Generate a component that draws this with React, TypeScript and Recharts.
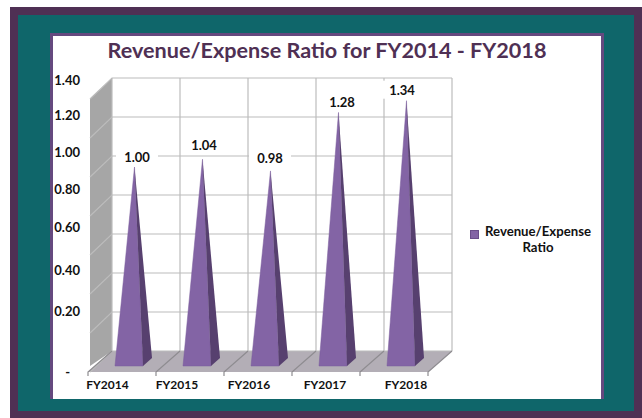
import {
  ComposedChart, Bar, XAxis, YAxis, CartesianGrid, LabelList, Legend,
} from "recharts";

const categories = ["FY2014", "FY2015", "FY2016", "FY2017", "FY2018"];
const ratios = [1.0, 1.04, 0.98, 1.28, 1.34];
const valueTicks = [0, 0.2, 0.4, 0.6, 0.8, 1.0, 1.2, 1.4];
const seriesName = "Revenue/Expense Ratio";
const data = categories.map((year, i) => ({ year, ratio: ratios[i] }));

const FONT = "Lato, 'Open Sans', sans-serif";
const GRID = "#bcbcbc";
// 3D depth of the box, back wall vs front plane
const DEPTH_X = 24;
const DEPTH_Y = 21;

// the reference's labels don't sit on their gridlines, so they get nudged
const yLabelNudge = [0, -22, -24, -28, -27, -25, -23, -19];
const xLabelNudge = [-14.5, -13, -9, -1, 12];
const dataLabelDx = [3, 2, 0, 4, -4];
const dataLabelDy = [-10, -14, -13, -10, -11];

// side wall + floor, drawn once from a grid underneath the real one
const Box = ({ index, x1, x2, y1, y, height }: any) => {
  if (index !== 0) return <g />;
  const b = y + height;
  return (
    <g>
      <polygon points={`${x1 + 2},${y} ${x1 + DEPTH_X},${y - DEPTH_Y} ${x1 + DEPTH_X},${b - DEPTH_Y} ${x1 + 2},${b - 6}`} fill="#a6a6a6" />
      <polygon points={`${x1},${b} ${x2},${b} ${x2 + DEPTH_X},${b - DEPTH_Y} ${x1 + DEPTH_X},${b - DEPTH_Y}`} fill="#b3aeb6" />
    </g>
  );
};

const HLine = ({ x1, y1, x2 }: any) => (
  <path
    d={`M${x1 + 2},${y1} L${x1 + DEPTH_X},${y1 - DEPTH_Y} L${x2 + DEPTH_X},${y1 - DEPTH_Y}`}
    fill="none" stroke={GRID} strokeWidth={1.2}
  />
);

const VLine = ({ x1, y1, y2 }: any) => (
  <g fill="none" strokeWidth={1.2}>
    <path d={`M${x1 + DEPTH_X},${y2 - DEPTH_Y} L${x1 + DEPTH_X},${y1 - DEPTH_Y}`} stroke={GRID} />
    <path d={`M${x1},${y2 + 4} L${x1},${y2} L${x1 + DEPTH_X},${y2 - DEPTH_Y}`} stroke="#8e8c90" />
  </g>
);

const Pyramid = ({ x, y, width, height }: any) => {
  const cx = x + width / 2;
  const base = y + height;
  const apex = `${cx + 12.5},${y - 10}`;
  return (
    <g>
      <polygon points={`${cx - 7},${base - 6} ${cx + 21},${base - 6} ${apex}`} fill="#8364a5" stroke="#7a5c9c" strokeWidth={0.5} />
      <polygon points={`${cx + 21},${base - 6} ${cx + 30},${base - 14} ${apex}`} fill="#57406f" />
    </g>
  );
};

const PointLabel = ({ x, y, width, value, index }: any) => {
  const cx = x + width / 2 + 12 + dataLabelDx[index];
  const cy = y - 10 + dataLabelDy[index];
  return (
    <g>
      <rect x={cx - 21} y={cy - 9} width={42} height={18} fill="#fff" />
      <text x={cx} y={cy} textAnchor="middle" dominantBaseline="central"
        fontFamily={FONT} fontWeight={700} fontSize={13} fill="#111">
        {Number(value).toFixed(2)}
      </text>
    </g>
  );
};

const YTick = ({ x, y, payload, index }: any) => (
  <text x={payload.value === 0 ? x - 10 : x} y={y + yLabelNudge[index]} textAnchor="end" dominantBaseline="central"
    fontFamily={FONT} fontWeight={700} fontSize={13} fill="#111">
    {payload.value === 0 ? "-" : payload.value.toFixed(2)}
  </text>
);

const XTick = ({ x, y, payload, index }: any) => (
  <text x={x + xLabelNudge[index]} y={y + 6} textAnchor="middle" dominantBaseline="central"
    fontFamily={FONT} fontWeight={700} fontSize={12} fill="#111">
    {payload.value}
  </text>
);

const LegendBox = () => (
  <div style={{ display: "flex", alignItems: "flex-start", fontFamily: FONT, fontWeight: 700, fontSize: 13.2, color: "#111" }}>
    <span style={{ width: 7, height: 7, marginTop: 7, background: "#8364a5", border: "1px solid #6a4e8a", flexShrink: 0 }} />
    <span style={{ width: 108, marginLeft: 5, textAlign: "center", lineHeight: "16px" }}>{seriesName}</span>
  </div>
);

export default function App() {
  return (
    <div style={{ position: "absolute", left: 0, top: 0, width: 642, height: 418, background: "#fff", overflow: "hidden" }}>
      <div style={{ position: "absolute", left: 10, top: 7, width: 632, height: 411, background: "#4f3054" }} />
      <div style={{ position: "absolute", left: 18, top: 15, width: 616, height: 396, background: "#0f666a" }} />
      <div style={{
        position: "absolute", left: 50, top: 33, width: 548, height: 363, background: "#fff",
        borderLeft: "3px solid #65497f", borderRight: "3px solid #65497f", borderTop: "3px solid #65497f",
      }} />
      <div style={{
        position: "absolute", left: 53, width: 548, top: 37, textAlign: "center", fontFamily: FONT,
        fontWeight: 700, fontSize: 21.6, lineHeight: "26px", color: "#4f3054", whiteSpace: "nowrap",
      }}>
        Revenue/Expense Ratio for FY2014 - FY2018
      </div>
      <div style={{ position: "absolute", left: 0, top: 0 }}>
        <ComposedChart width={642} height={418} data={data}
          margin={{ top: 99, right: 79, left: 48, bottom: 22 }}>
          <CartesianGrid horizontal={Box} vertical={false} />
          <CartesianGrid horizontal={HLine} vertical={VLine}
            verticalCoordinatesGenerator={({ offset }: any) =>
              categories.concat("").map((_, i) => offset.left + (i * offset.width) / categories.length)} />
          <XAxis dataKey="year" height={24} axisLine={false} tickLine={false} interval={0} tick={<XTick />} tickMargin={0} />
          <YAxis width={40} domain={[0, 1.4]} ticks={valueTicks} axisLine={false} tickLine={false} tick={<YTick />} />
          <Legend layout="vertical" align="right" verticalAlign="middle" content={<LegendBox />}
            wrapperStyle={{ position: "absolute", left: 470, right: "auto", top: 223, width: 135 }} />
          <Bar dataKey="ratio" name={seriesName} barSize={28} isAnimationActive={false} shape={<Pyramid />}>
            <LabelList dataKey="ratio" content={<PointLabel />} />
          </Bar>
        </ComposedChart>
      </div>
    </div>
  );
}
